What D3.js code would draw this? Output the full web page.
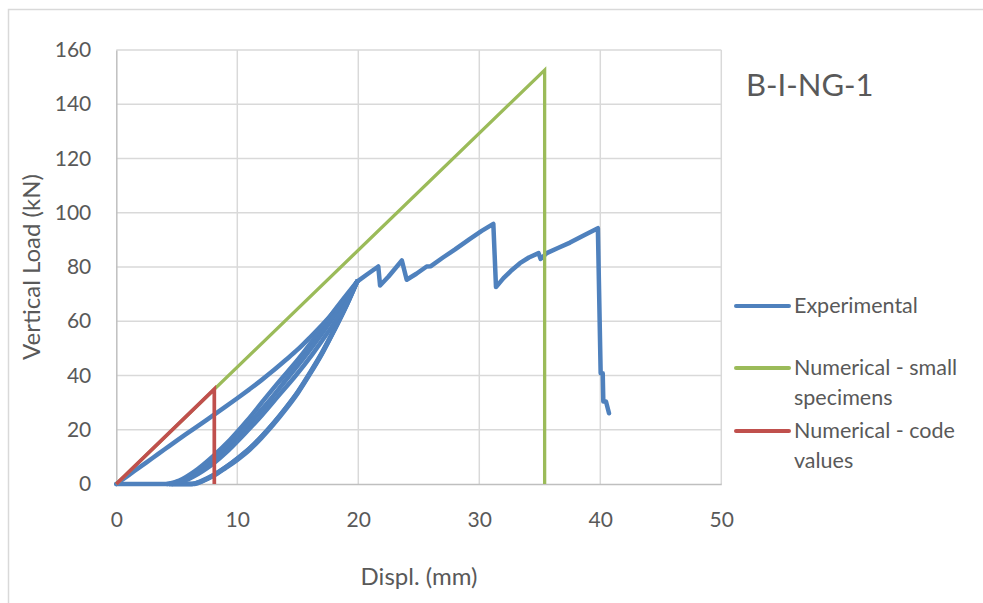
<!DOCTYPE html>
<html>
<head>
<meta charset="utf-8">
<script src="https://cdn.jsdelivr.net/npm/d3@7"></script>
<style>
  html, body { margin: 0; padding: 0; background: #fff; }
  svg { display: block; font-family: Lato, "Open Sans", sans-serif; }
</style>
</head>
<body>
<svg id="chart" width="983" height="603"></svg>
<script>
// Load–displacement data, B-I-NG-1 beam test
const xTicks = [0, 10, 20, 30, 40, 50];
const yTicks = [0, 20, 40, 60, 80, 100, 120, 140, 160];

// Experimental record. Hysteresis branches are listed by increasing displacement
// (virgin loading, three unloading and three reloading branches); the failure branch follows.
const expVirgin = [[0,0],[1,3.2],[2,6.4],[3,9.6],[4,12.8],[5,16],[6,19.1],[7,22.2],[8,25.3],[9,28.4],[10,31.6],[11,34.9],[12,38.3],[13,41.9],[14,45.7],[15,49.6],[16,54],[17,58.6],[18,63.5],[19,68.7],[19.9,74.6]];
const expUnload1 = [[0,0],[6.3,0],[7,1.1],[8,3.2],[9,6],[10,9.3],[11,13],[12,17.5],[13,22.5],[14,28],[15,34],[16,41],[17,48.5],[18,57],[19,66],[19.9,74.6]];
const expReload1 = [[4.2,0],[5.2,1.3],[6.5,4.8],[8,10.3],[9.4,16.3],[10.8,23.3],[12.2,31],[13.5,38],[15,45.8],[16.5,54.5],[18,63.8],[19.9,74.6]];
const expUnload2 = [[4.4,0],[6.5,0],[7.2,1.2],[8.1,3.4],[9.1,6.4],[10.1,9.8],[11.1,13.5],[12.1,18],[13.1,23],[14.1,28.5],[15.1,34.5],[16.1,41.5],[17.1,49],[18.1,57.5],[19.1,66.5],[19.9,74.6]];
const expReload2 = [[4.4,0],[5.6,1.6],[7,5.3],[8.5,10.8],[10,17.3],[11.4,24.3],[12.8,31.5],[14.1,38.8],[15.5,46.5],[17,55.5],[18.4,64.5],[19.9,74.6]];
const expUnload3 = [[4.6,0],[6.2,0],[7,0.9],[8,2.9],[9,5.8],[10,8.9],[11,12.5],[12,17],[13,22],[14,27.5],[15,33.5],[16,40.5],[17,48],[18,56.5],[19,65.5],[19.9,74.6]];
const expReload3 = [[4.6,0],[6,1.9],[7.5,5.8],[9,11.3],[10.6,18.5],[12,25.2],[13.4,32.5],[14.8,39.8],[16.2,47.8],[17.5,56],[18.8,65],[19.9,74.6]];
const expFailure = [[19.9,74.6],[20.8,77.5],[21.65,80.2],[21.8,73.2],[22.5,76.5],[23.6,82.4],[24.0,75.3],[24.8,77.5],[25.65,80.2],[26.0,80.3],[27,83.5],[28,86.5],[29.2,90.3],[30.2,93.3],[31.16,95.9],[31.38,72.6],[32,75.9],[32.6,78.5],[33.36,81.4],[34.1,83.5],[34.9,85.1],[35.07,83],[35.2,83.5],[35.57,85.1],[36.5,87],[37.5,89],[38.7,91.8],[39.8,94.3],[40.03,40.8],[40.2,40.8],[40.25,30.4],[40.47,30.4],[40.72,26.1]];

// Numerical predictions
const numSmall = [[0,0],[35.4,152.6],[35.4,0]];
const numCode = [[0,0],[8.1,35],[8.1,0]];

const seriesNames = ["Experimental", "Numerical - small specimens", "Numerical - code values"];
const seriesColors = ["#4F81BD", "#9BBB59", "#C0504D"];

// smooth hysteresis branches; the failure branch keeps its sharp drops
const expSmooth = [expVirgin, expUnload1, expReload1, expUnload2, expReload2, expUnload3, expReload3];

const svg = d3.select("#chart");
const x = d3.scaleLinear().domain([0, 50]).range([116.3, 721.3]);
const y = d3.scaleLinear().domain([0, 160]).range([484, 50]);
const textColor = "#595959";

// chart border
svg.append("rect").attr("x", 8.5).attr("y", 9.5).attr("width", 1000).attr("height", 700)
  .attr("fill", "none").attr("stroke", "#D9D9D9").attr("stroke-width", 1.5);

// gridlines
svg.append("g").selectAll("line").data(yTicks.filter(d => d > 0)).join("line")
  .attr("x1", x(0)).attr("x2", x(50)).attr("y1", d => y(d)).attr("y2", d => y(d))
  .attr("stroke", "#D9D9D9").attr("stroke-width", 1.5);
svg.append("g").selectAll("line").data(xTicks.filter(d => d > 0)).join("line")
  .attr("y1", y(0)).attr("y2", y(160)).attr("x1", d => x(d)).attr("x2", d => x(d))
  .attr("stroke", "#D9D9D9").attr("stroke-width", 1.5);

// axes
const xAxis = svg.append("g").attr("transform", `translate(0,${y(0)})`)
  .call(d3.axisBottom(x).tickValues(xTicks).tickSize(0).tickPadding(28));
const yAxis = svg.append("g").attr("transform", `translate(${x(0)},0)`)
  .call(d3.axisLeft(y).tickValues(yTicks).tickSize(0).tickPadding(25));
[xAxis, yAxis].forEach(g => {
  g.select(".domain").attr("stroke", "#BFBFBF").attr("stroke-width", 1.5);
  g.selectAll("text").attr("fill", textColor).style("font-size", "21px").style("font-family", "Lato, sans-serif");
});

// series lines
const line = d3.line().x(d => x(d[0])).y(d => y(d[1]));
const smoothLine = d3.line().x(d => x(d[0])).y(d => y(d[1])).curve(d3.curveMonotoneX);
const plot = svg.append("g");
const expG = plot.append("g").attr("fill", "none").attr("stroke", seriesColors[0])
  .attr("stroke-width", 4.5).attr("stroke-linejoin", "round").attr("stroke-linecap", "round");
expSmooth.forEach(seg => expG.append("path").datum(seg).attr("d", smoothLine));
expG.append("path").datum(expFailure).attr("d", line);
plot.append("path").datum(numSmall).attr("d", line)
  .attr("fill", "none").attr("stroke", seriesColors[1]).attr("stroke-width", 3.3);
plot.append("path").datum(numCode).attr("d", line)
  .attr("fill", "none").attr("stroke", seriesColors[2]).attr("stroke-width", 3.7);

// axis titles
svg.append("text").attr("x", 419).attr("y", 585).attr("text-anchor", "middle")
  .attr("fill", textColor).style("font-size", "24px").text("Displ. (mm)");
svg.append("text").attr("transform", "translate(40,267) rotate(-90)").attr("text-anchor", "middle")
  .attr("fill", textColor).style("font-size", "24px").text("Vertical Load (kN)");

// specimen label
svg.append("text").attr("x", 746).attr("y", 96).attr("fill", textColor)
  .style("font-size", "31px").text("B-I-NG-1");

// legend
const legendRows = [
  { lines: ["Experimental"], y: 306 },
  { lines: ["Numerical - small", "specimens"], y: 368 },
  { lines: ["Numerical - code", "values"], y: 431 }
];
const lg = svg.append("g");
legendRows.forEach((r, i) => {
  lg.append("line").attr("x1", 736).attr("x2", 789).attr("y1", r.y).attr("y2", r.y)
    .attr("stroke", seriesColors[i]).attr("stroke-width", 4).attr("stroke-linecap", "round");
  r.lines.forEach((t, j) => {
    lg.append("text").attr("x", 794).attr("y", r.y + 7 + j * 30).attr("fill", textColor)
      .style("font-size", "21.5px").text(t);
  });
});
</script>
</body>
</html>
